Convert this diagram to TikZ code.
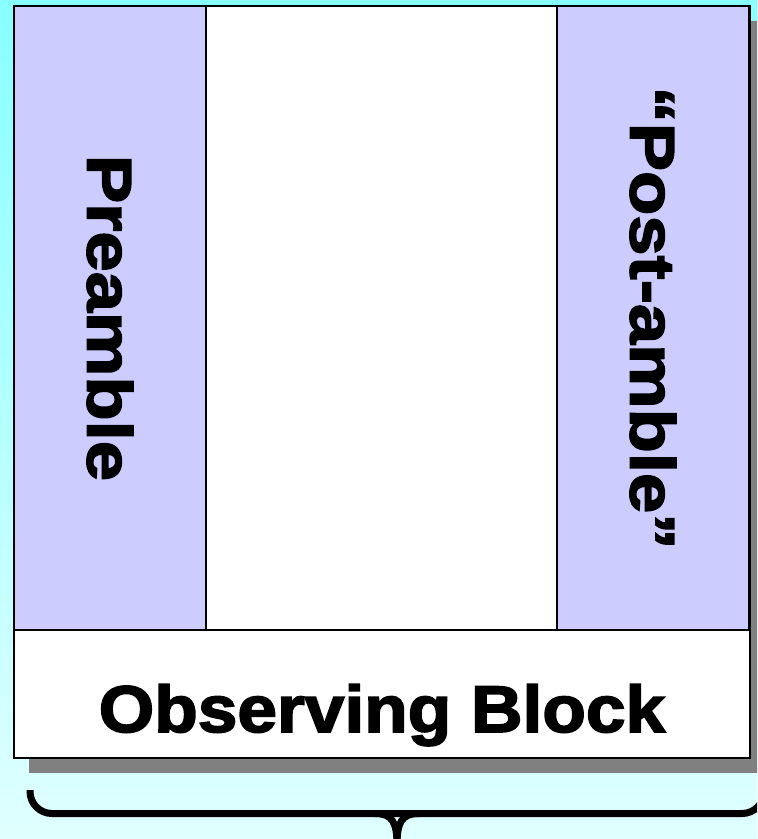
\documentclass[tikz,border=0pt]{standalone}
\usepackage{fontspec}
\usepackage{tikz}
\usetikzlibrary{positioning}
\newfontfamily\heavyfont{Liberation Sans Bold}[FakeBold=2.6, FakeStretch=1.08]
\newfontfamily\heavyvfont{Liberation Sans Bold}[FakeBold=2.6, FakeStretch=1.15]
\definecolor{skytop}{HTML}{88FFFF}
\definecolor{skybot}{HTML}{E0FFFF}
\definecolor{lavender}{HTML}{CCCCFF}
\definecolor{shadow}{HTML}{808080}
\tikzset{
  part/.style={draw=black, line width=1pt, anchor=north west, inner sep=0pt,
               outer sep=0pt},
  sidepart/.style={part, fill=lavender, minimum width=96pt, minimum height=312pt},
  vlbl/.style={rotate=-90, font=\heavyvfont\fontsize{31.5}{31.5}\selectfont},
  hlbl/.style={font=\heavyfont\fontsize{33}{33}\selectfont},
  brace/.style={line width=3.5pt, rounded corners=11pt}
}
\begin{document}
\begin{tikzpicture}[x=0.5pt, y=-0.5pt]
  % background, with a cyan shade fading downwards
  \useasboundingbox (0,0) rectangle (757,839);
  \clip (0,0) rectangle (757,839);
  \shade[top color=skytop, bottom color=skybot] (0,0) rectangle (757,839);
  \fill[shadow] (29,21) rectangle (765,773);

  % three columns over the block
  \node[sidepart] (preamble) at (14,6) {};
  \node[part, fill=white, minimum width=175.5pt, minimum height=312pt] (body)
    at (preamble.north east) {};
  \node[sidepart] (postamble) at (body.north east) {};
  \node[part, fill=white, minimum width=368pt, minimum height=64pt] (obsblock)
    at (preamble.south west) {};
  \draw[line width=1pt] (preamble.north west) rectangle (obsblock.south east);

  \node[vlbl] (pretext) at (preamble.center) {Preamble};
  \node[vlbl] (posttext) at (postamble.center) {“Post-amble”};
  \node[hlbl, anchor=base] (obstext) at (382,732) {Observing Block};

  % brace under the whole block
  \coordinate (bracetip) at (397,845);
  \draw[brace] (30,790) -- (30,813.5) -- (397,813.5);
  \draw[brace] (764,790) -- (764,813.5) -- (397,813.5);
  \draw[line width=3.5pt] (375,813.5) .. controls (392,813.5) and (397,822) .. (bracetip);
  \draw[line width=3.5pt] (419,813.5) .. controls (402,813.5) and (397,822) .. (bracetip);
\end{tikzpicture}
\end{document}
